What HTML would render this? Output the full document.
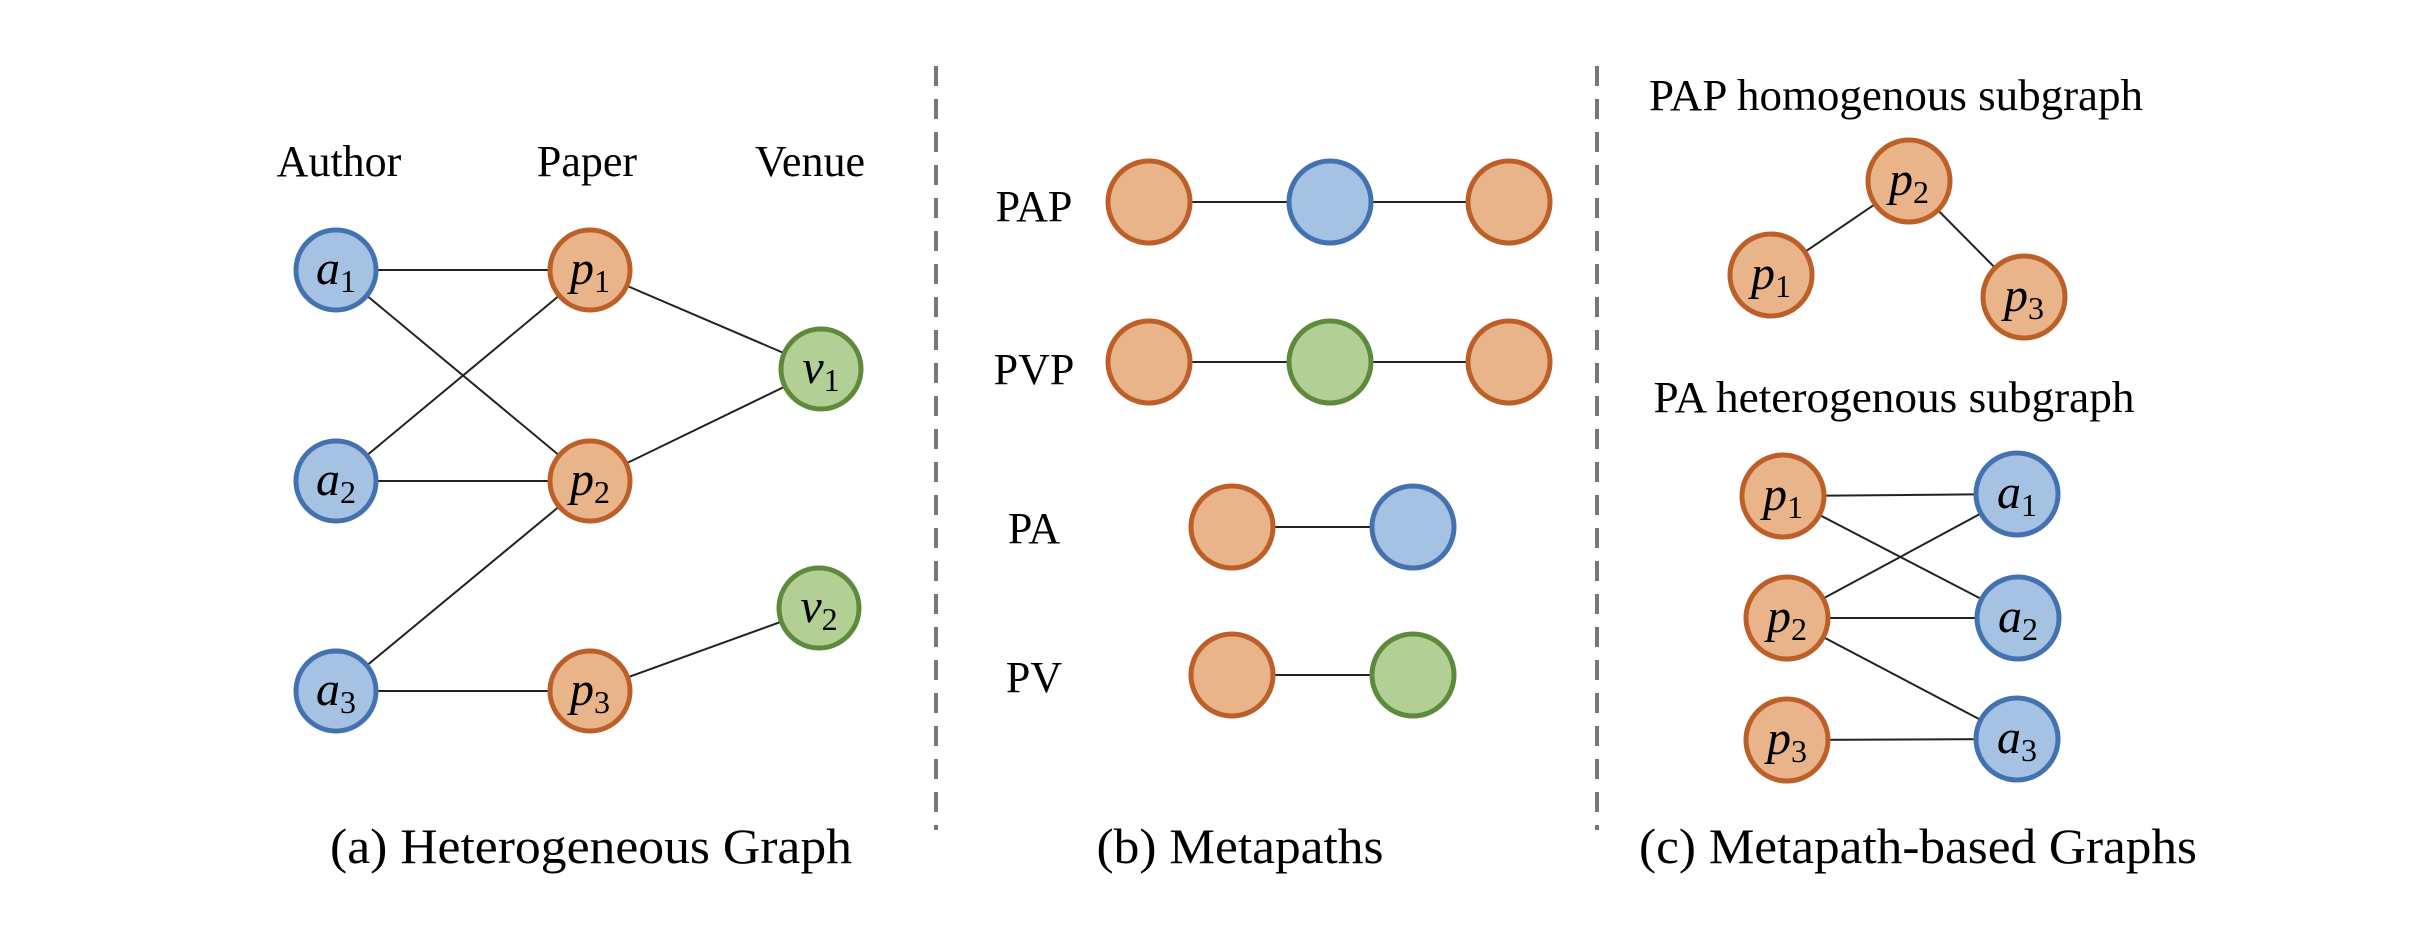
<!DOCTYPE html>
<html><head><meta charset="utf-8"><style>html,body{margin:0;padding:0;background:#fff}svg{display:block}</style></head>
<body>
<svg width="2410" height="932" viewBox="0 0 2410 932" xmlns="http://www.w3.org/2000/svg" font-family="'Liberation Serif', serif">
<defs>
<style>
.e{stroke:#222;stroke-width:2}
.o{fill:#E9B48A;stroke:#BD5F28;stroke-width:5}
.b{fill:#A6C2E2;stroke:#4472B0;stroke-width:5}
.g{fill:#B2D096;stroke:#5E8A3B;stroke-width:5}
.n{font-size:48px;font-style:italic;text-anchor:middle}
.n tspan{font-style:normal;font-size:32px}
.l{font-size:44px;text-anchor:middle}
.c{font-size:50px;text-anchor:middle}
</style>
</defs>
<!-- dashed separators -->
<line x1="936" y1="66" x2="936" y2="830" stroke="#777" stroke-width="4" stroke-dasharray="20,13"/>
<line x1="1597" y1="66" x2="1597" y2="830" stroke="#777" stroke-width="4" stroke-dasharray="20,13"/>

<!-- (a) -->
<text class="l" x="339" y="176">Author</text>
<text class="l" x="587" y="176">Paper</text>
<text class="l" x="810" y="176">Venue</text>
<line class="e" x1="336" y1="270" x2="590" y2="270"/>
<line class="e" x1="336" y1="270" x2="590" y2="481"/>
<line class="e" x1="336" y1="481" x2="590" y2="270"/>
<line class="e" x1="336" y1="481" x2="590" y2="481"/>
<line class="e" x1="336" y1="691" x2="590" y2="481"/>
<line class="e" x1="336" y1="691" x2="590" y2="691"/>
<line class="e" x1="590" y1="270" x2="821" y2="369"/>
<line class="e" x1="590" y1="481" x2="821" y2="369"/>
<line class="e" x1="590" y1="691" x2="819" y2="608"/>
<circle class="b" cx="336" cy="270" r="40"/><text class="n" x="336" y="284">a<tspan dy="8">1</tspan></text>
<circle class="b" cx="336" cy="481" r="40"/><text class="n" x="336" y="495">a<tspan dy="8">2</tspan></text>
<circle class="b" cx="336" cy="691" r="40"/><text class="n" x="336" y="705">a<tspan dy="8">3</tspan></text>
<circle class="o" cx="590" cy="270" r="40"/><text class="n" x="590" y="284">p<tspan dy="8">1</tspan></text>
<circle class="o" cx="590" cy="481" r="40"/><text class="n" x="590" y="495">p<tspan dy="8">2</tspan></text>
<circle class="o" cx="590" cy="691" r="40"/><text class="n" x="590" y="705">p<tspan dy="8">3</tspan></text>
<circle class="g" cx="821" cy="369" r="40"/><text class="n" x="821" y="383">v<tspan dy="8">1</tspan></text>
<circle class="g" cx="819" cy="608" r="40"/><text class="n" x="819" y="622">v<tspan dy="8">2</tspan></text>
<text class="c" x="591" y="863" textLength="522" lengthAdjust="spacingAndGlyphs">(a) Heterogeneous Graph</text>

<!-- (b) -->
<text class="l" x="1034" y="221">PAP</text>
<text class="l" x="1034" y="384">PVP</text>
<text class="l" x="1034" y="543">PA</text>
<text class="l" x="1034" y="692">PV</text>
<line class="e" x1="1149" y1="202" x2="1509" y2="202"/>
<line class="e" x1="1149" y1="362" x2="1509" y2="362"/>
<line class="e" x1="1232" y1="527" x2="1413" y2="527"/>
<line class="e" x1="1232" y1="675" x2="1413" y2="675"/>
<circle class="o" cx="1149" cy="202" r="41"/><circle class="b" cx="1330" cy="202" r="41"/><circle class="o" cx="1509" cy="202" r="41"/>
<circle class="o" cx="1149" cy="362" r="41"/><circle class="g" cx="1330" cy="362" r="41"/><circle class="o" cx="1509" cy="362" r="41"/>
<circle class="o" cx="1232" cy="527" r="41"/><circle class="b" cx="1413" cy="527" r="41"/>
<circle class="o" cx="1232" cy="675" r="41"/><circle class="g" cx="1413" cy="675" r="41"/>
<text class="c" x="1240" y="863" textLength="287" lengthAdjust="spacingAndGlyphs">(b) Metapaths</text>

<!-- (c) -->
<text class="l" x="1896" y="110" textLength="494" lengthAdjust="spacingAndGlyphs">PAP homogenous subgraph</text>
<line class="e" x1="1909" y1="181" x2="1771" y2="275"/>
<line class="e" x1="1909" y1="181" x2="2024" y2="297"/>
<circle class="o" cx="1909" cy="181" r="41"/><text class="n" x="1909" y="195">p<tspan dy="8">2</tspan></text>
<circle class="o" cx="1771" cy="275" r="41"/><text class="n" x="1771" y="289">p<tspan dy="8">1</tspan></text>
<circle class="o" cx="2024" cy="297" r="41"/><text class="n" x="2024" y="311">p<tspan dy="8">3</tspan></text>
<text class="l" x="1894" y="412" textLength="481" lengthAdjust="spacingAndGlyphs">PA heterogenous subgraph</text>
<line class="e" x1="1783" y1="496" x2="2017" y2="494"/>
<line class="e" x1="1783" y1="496" x2="2018" y2="618"/>
<line class="e" x1="1787" y1="618" x2="2017" y2="494"/>
<line class="e" x1="1787" y1="618" x2="2018" y2="618"/>
<line class="e" x1="1787" y1="618" x2="2017" y2="739"/>
<line class="e" x1="1787" y1="740" x2="2017" y2="739"/>
<circle class="o" cx="1783" cy="496" r="41"/><text class="n" x="1783" y="510">p<tspan dy="8">1</tspan></text>
<circle class="o" cx="1787" cy="618" r="41"/><text class="n" x="1787" y="632">p<tspan dy="8">2</tspan></text>
<circle class="o" cx="1787" cy="740" r="41"/><text class="n" x="1787" y="754">p<tspan dy="8">3</tspan></text>
<circle class="b" cx="2017" cy="494" r="41"/><text class="n" x="2017" y="508">a<tspan dy="8">1</tspan></text>
<circle class="b" cx="2018" cy="618" r="41"/><text class="n" x="2018" y="632">a<tspan dy="8">2</tspan></text>
<circle class="b" cx="2017" cy="739" r="41"/><text class="n" x="2017" y="753">a<tspan dy="8">3</tspan></text>
<text class="c" x="1918" y="863" textLength="558" lengthAdjust="spacingAndGlyphs">(c) Metapath-based Graphs</text>
</svg>
</body></html>
